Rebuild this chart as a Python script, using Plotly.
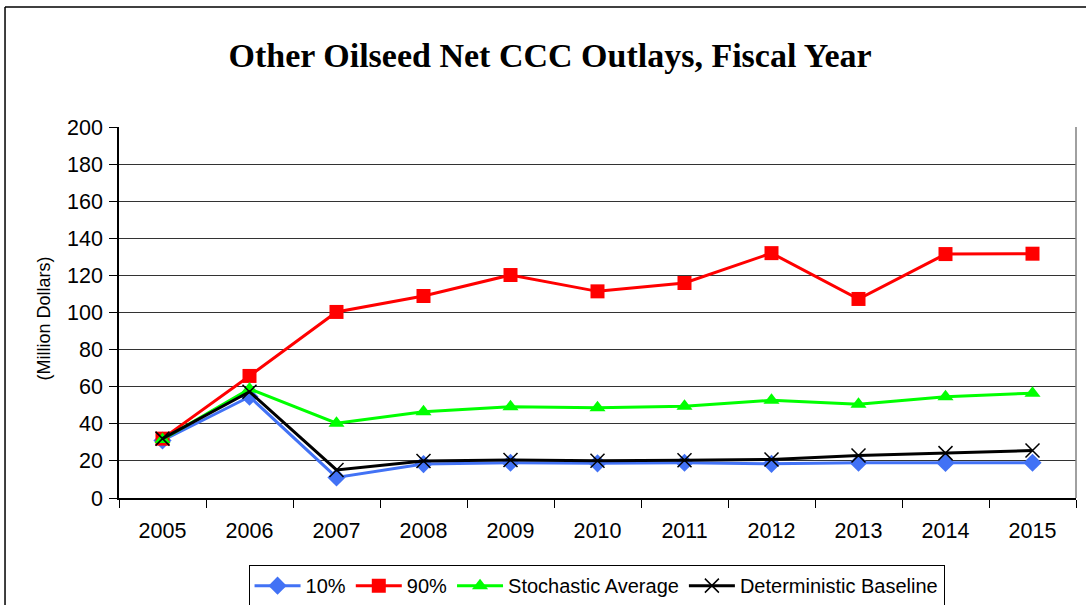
import plotly.graph_objects as go

years = ["2005", "2006", "2007", "2008", "2009", "2010", "2011", "2012", "2013", "2014", "2015"]
p10 = [31.0, 54.6, 11.1, 18.3, 19.0, 18.7, 19.0, 18.4, 19.0, 18.9, 19.0]
p90 = [32.0, 65.8, 100.3, 108.9, 120.2, 111.4, 115.9, 132.0, 107.3, 131.5, 131.7]
stoch = [31.5, 58.8, 40.3, 46.5, 49.2, 48.7, 49.4, 52.7, 50.6, 54.6, 56.5]
determ = [32.0, 57.3, 15.1, 19.9, 20.5, 20.1, 20.3, 20.8, 22.9, 24.2, 25.6]
y_ticks = [0, 20, 40, 60, 80, 100, 120, 140, 160, 180, 200]

fig = go.Figure()
fig.add_trace(go.Scatter(x=years, y=p10, name="10%", mode="lines+markers",
                         line=dict(color="#4272F5", width=3),
                         marker=dict(symbol="diamond", size=14, color="#4272F5")))
fig.add_trace(go.Scatter(x=years, y=p90, name="90%", mode="lines+markers",
                         line=dict(color="#FF0000", width=3),
                         marker=dict(symbol="square", size=14, color="#FF0000")))
fig.add_trace(go.Scatter(x=years, y=stoch, name="Stochastic Average", mode="lines+markers",
                         line=dict(color="#00FF00", width=3),
                         marker=dict(symbol="triangle-up", size=14, color="#00FF00")))
fig.add_trace(go.Scatter(x=years, y=determ, name="Deterministic Baseline", mode="lines+markers",
                         line=dict(color="#000000", width=3),
                         marker=dict(symbol="x-thin", size=14, color="#000000",
                                     line=dict(color="#000000", width=1.5))))

fig.update_layout(
    width=1086, height=605,
    margin=dict(l=119, r=10, t=127, b=107, autoexpand=False),
    paper_bgcolor="white", plot_bgcolor="white",
    font=dict(family="Liberation Sans, Arial", size=20, color="black"),
    title=dict(text="<b>Other Oilseed Net CCC Outlays, Fiscal Year</b>",
               font=dict(family="Liberation Serif, Times New Roman", size=34, color="black"),
               x=0.5065, xanchor="center", y=0.909, yanchor="middle"),
    showlegend=True,
    legend=dict(orientation="h", x=0.499, xanchor="center", y=-0.181, yanchor="top",
                bordercolor="black", borderwidth=1, font=dict(size=20),
                itemwidth=46, tracegroupgap=0),
    xaxis=dict(type="category", range=[-0.5, 10.5], tickson="boundaries", ticks="outside",
               ticklen=8, tickcolor="black", showline=True, linecolor="black", linewidth=1.5,
               showgrid=False, tickfont=dict(size=21.5), fixedrange=True,
               automargin=False, ticklabelstandoff=12),
    yaxis=dict(range=[0, 200], tickvals=y_ticks, ticks="outside", ticklen=8,
               tickcolor="black", showline=True, linecolor="black", linewidth=1.5,
               showgrid=True, gridcolor="#333333", gridwidth=1,
               tickfont=dict(size=21.5), zeroline=False, automargin=False,
               ticklabelstandoff=2),
)

# y-axis title
fig.add_annotation(text="(Million Dollars)", xref="paper", yref="paper",
                   x=(43.5 - 119) / 957, y=0.4825, xanchor="center", yanchor="middle",
                   textangle=-90, showarrow=False, font=dict(size=18))

# plot-area right border and outer chart frame
fig.add_shape(type="line", xref="paper", yref="paper", x0=1, x1=1, y0=0, y1=1,
              line=dict(color="#808080", width=1.5))
fig.add_shape(type="line", xref="paper", yref="paper", x0=-0.1191, x1=-0.1191, y0=-0.35, y1=1.3235,
              line=dict(color="black", width=1.5))
fig.add_shape(type="line", xref="paper", yref="paper", x0=-0.1191, x1=1.011, y0=1.3235, y1=1.3235,
              line=dict(color="black", width=1.5))

fig.write_html("out.html", config={"displayModeBar": False},
               post_script="document.body.style.margin='0';")
